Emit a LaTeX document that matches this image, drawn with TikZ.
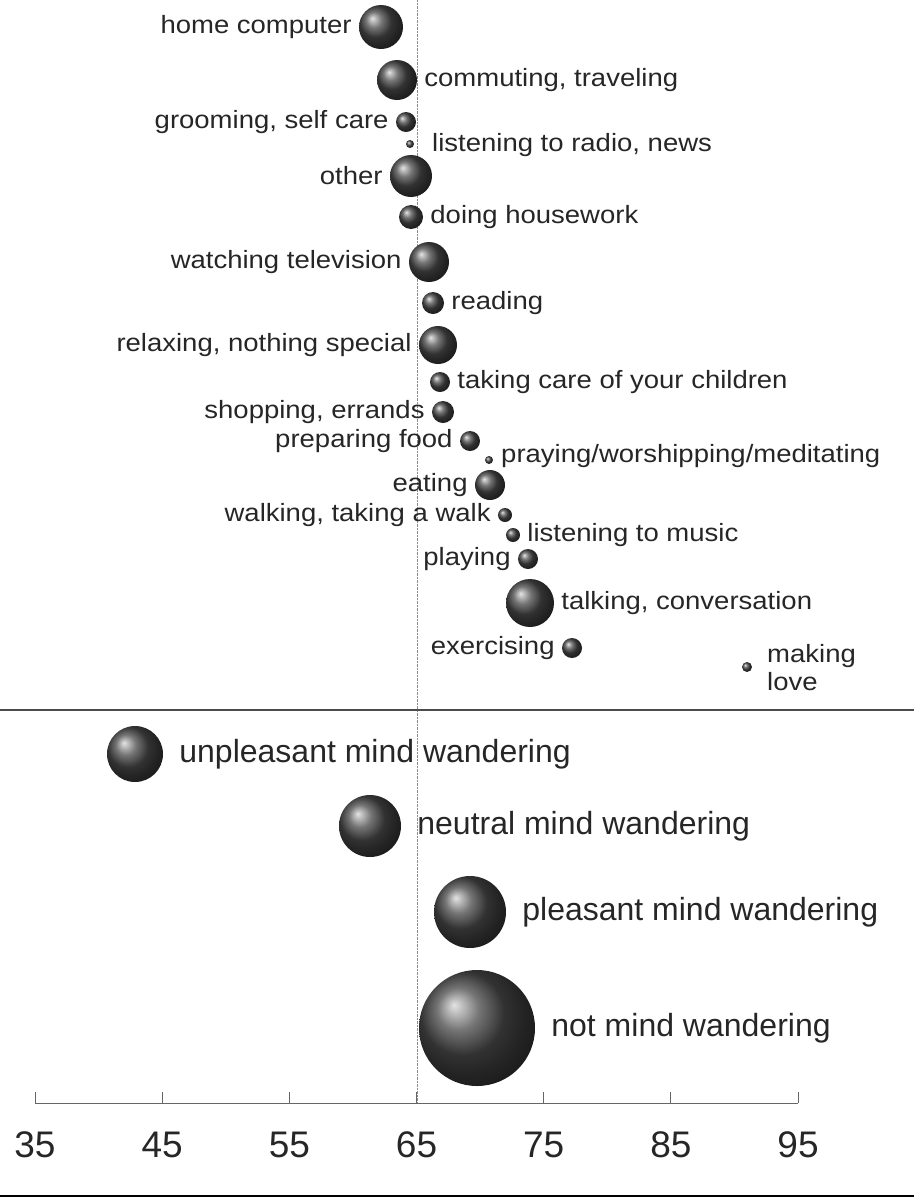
\documentclass[tikz,border=0pt]{standalone}
\usepackage{fontspec}
\setmainfont{Liberation Sans}
\begin{document}
\begin{tikzpicture}[x=1pt,y=-1pt,
  bub/.style={circle,inner sep=0pt,shading=ball,ball color=black!72},
  lab/.style={font=\fontsize{25}{28}\selectfont,text=black!85,inner sep=0pt,xscale=1.1},
  big/.style={font=\fontsize{32}{34}\selectfont,text=black!85,inner sep=0pt},
  tick/.style={font=\fontsize{37}{40}\selectfont,text=black!85}]
\useasboundingbox (0,0) rectangle (914,1200);
\draw[black!45,densely dotted] (417,0) -- (417,1103);
\draw[black!70,line width=1.2pt] (0,710) -- (914,710);
\draw[black,line width=2pt] (0,1196) -- (914,1196);
\newcommand{\bubL}[6]{\node[bub,minimum size=#4*2pt] (#1) at (#2,#3) {};
  \node[lab,anchor=east] (#1t) at ([xshift=-7pt]#1.west) {#5};}
\newcommand{\bubR}[6]{\node[bub,minimum size=#4*2pt] (#1) at (#2,#3) {};
  \node[lab,anchor=west] (#1t) at ([xshift=7pt]#1.east) {#5};}
\bubL{a}{381}{27}{22}{home computer}{}
\bubR{b}{397}{80}{20}{commuting, traveling}{}
\bubL{c}{406}{122}{10}{grooming, self care}{}
\node[bub,minimum size=8pt] (d) at (410,144) {};
\node[lab,anchor=west] (dt) at (432,145) {listening to radio, news};
\bubL{e}{411}{176}{21}{other}{}
\bubR{f}{411}{217}{12}{doing housework}{}
\bubL{g}{429}{262}{20}{watching television}{}
\bubR{h}{433}{303}{11}{reading}{}
\bubL{i}{438}{345}{19}{relaxing, nothing special}{}
\bubR{j}{440}{382}{10}{taking care of your children}{}
\bubL{k}{443}{412}{11}{shopping, errands}{}
\bubL{l}{470}{441}{10}{preparing food}{}
\node[bub,minimum size=8pt] (m) at (489,460) {};
\node[lab,anchor=west] (mt) at (501,456) {praying/worshipping/meditating};
\bubL{n}{490}{485}{15}{eating}{}
\bubL{o}{505}{515}{7}{walking, taking a walk}{}
\bubR{p}{513}{535}{7}{listening to music}{}
\bubL{q}{528}{559}{10}{playing}{}
\bubR{r}{530}{603}{24}{talking, conversation}{}
\bubL{s}{572}{648}{10}{exercising}{}
\node[bub,minimum size=10pt] (t) at (747,667) {};
\node[lab,anchor=west,align=left] (tt) at (767,668) {making\\love};
\newcommand{\bubB}[5]{\node[bub,minimum size=#4*2pt] (#1) at (#2,#3) {};
  \node[big,anchor=west] (#1t) at ([xshift=16pt]#1.east) {#5};}
\bubB{u}{135}{754}{28}{unpleasant mind wandering}
\bubB{v}{370}{826}{31}{neutral mind wandering}
\bubB{w}{470}{912}{36}{pleasant mind wandering}
\bubB{z}{477}{1028}{58}{not mind wandering}
\draw[black!60,line width=1pt] (35,1103) -- (798,1103);
\foreach \v [count=\k from 0] in {35,45,55,65,75,85,95}{
  \draw[black!60,line width=1pt] (35+\k*127.17,1103) -- (35+\k*127.17,1092);
  \node[tick] (x\k) at (35+\k*127.17,1145) {\v};}
\end{tikzpicture}
\end{document}
